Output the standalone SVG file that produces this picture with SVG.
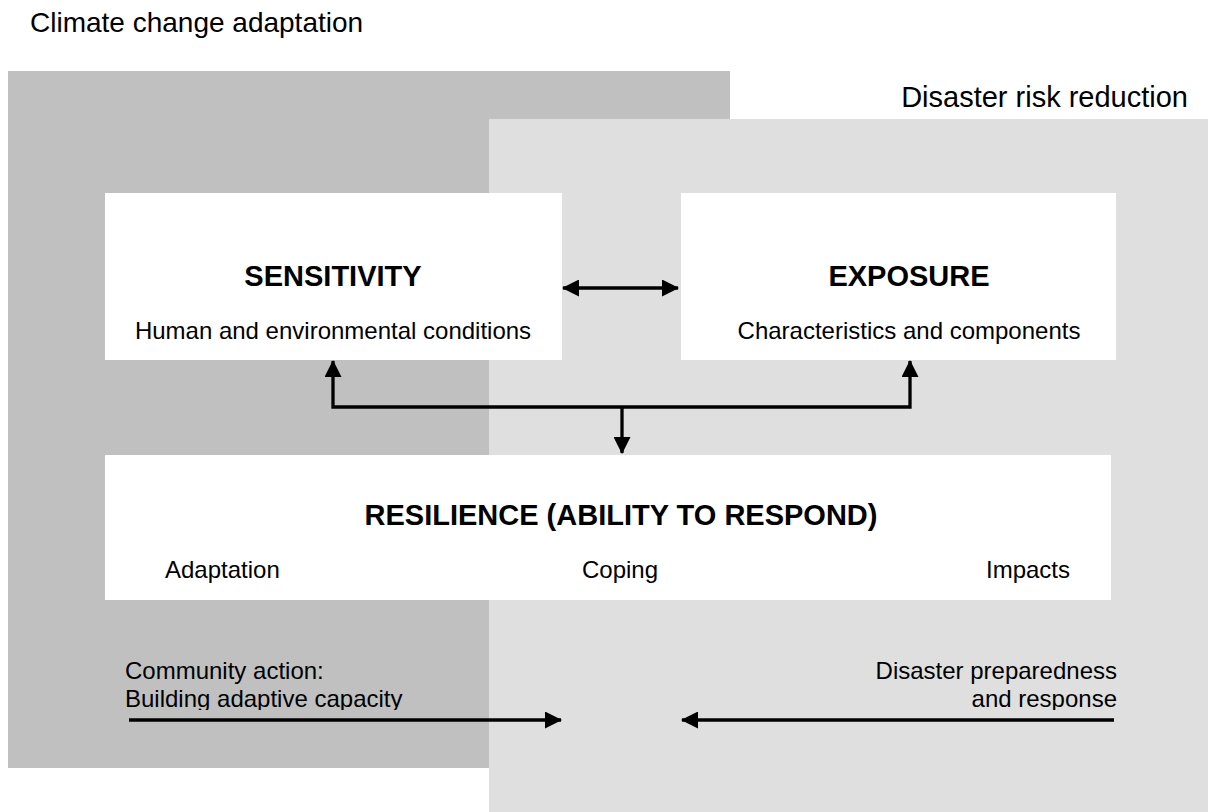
<svg xmlns="http://www.w3.org/2000/svg" width="1208" height="812" viewBox="0 0 1208 812">
<style>
.t{font-family:"Liberation Sans",Arial,sans-serif;fill:#000}
.title{font-size:28px}
.title2{font-size:29px}
.h{font-size:29px;font-weight:bold}
.b{font-size:24px}
.box{fill:#fff}
.c{fill:none;stroke:#000;stroke-width:3.3}
</style>
<defs>
<marker id="ah" markerUnits="userSpaceOnUse" markerWidth="17" markerHeight="17" refX="16" refY="8.5" orient="auto-start-reverse" viewBox="0 0 17 17">
<path d="M0,0 L17,8.5 L0,17 z" fill="#000"/>
</marker>
<clipPath id="clipText"><rect x="0" y="600" width="1208" height="110"/></clipPath>
</defs>
<rect x="0" y="0" width="1208" height="812" fill="#fff"/>
<g id="region-cca">
<rect x="8" y="71" width="722" height="697" fill="#c0c0c0"/>
<text class="t title" x="30" y="32">Climate change adaptation</text>
</g>
<g id="region-drr">
<rect x="489" y="119" width="719" height="693" fill="#dfdfdf"/>
<text class="t title2" x="1188" y="107" text-anchor="end">Disaster risk reduction</text>
</g>
<g id="sensitivity">
<rect class="box" x="105" y="193" width="457" height="167"/>
<text class="t h" x="333" y="286" text-anchor="middle">SENSITIVITY</text>
<text class="t b" x="333" y="339" text-anchor="middle">Human and environmental conditions</text>
</g>
<g id="exposure">
<rect class="box" x="681" y="193" width="435" height="167"/>
<text class="t h" x="909" y="286" text-anchor="middle">EXPOSURE</text>
<text class="t b" x="909" y="339" text-anchor="middle">Characteristics and components</text>
</g>
<g id="resilience">
<rect class="box" x="105" y="455" width="1006" height="145"/>
<text class="t h" x="621" y="525" text-anchor="middle">RESILIENCE (ABILITY TO RESPOND)</text>
<text class="t b" x="165" y="578">Adaptation</text>
<text class="t b" x="620" y="578" text-anchor="middle">Coping</text>
<text class="t b" x="1070" y="578" text-anchor="end">Impacts</text>
</g>
<g id="community-action" clip-path="url(#clipText)">
<text class="t b" x="125" y="679">Community action:</text>
<text class="t b" x="125" y="707">Building adaptive capacity</text>
</g>
<g id="disaster-preparedness" clip-path="url(#clipText)">
<text class="t b" x="1117" y="679" text-anchor="end">Disaster preparedness</text>
<text class="t b" x="1117" y="707" text-anchor="end">and response</text>
</g>
<g id="connectors">
<path class="c" d="M563,288 L678,288" marker-start="url(#ah)" marker-end="url(#ah)"/>
<path class="c" d="M333,361 L333,407 L910,407 L910,361" marker-start="url(#ah)" marker-end="url(#ah)"/>
<path class="c" d="M622,407 L622,453" marker-end="url(#ah)"/>
<path class="c" d="M129,720 L561,720" marker-end="url(#ah)"/>
<path class="c" d="M1114,720 L682,720" marker-end="url(#ah)"/>
</g>
</svg>
